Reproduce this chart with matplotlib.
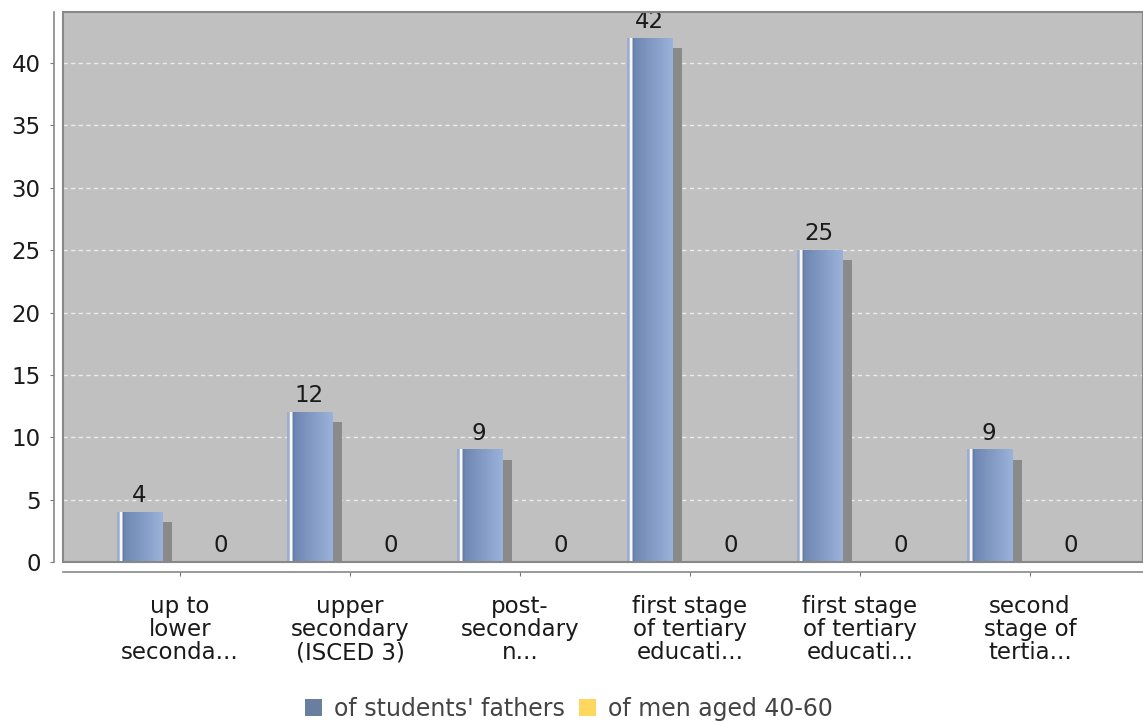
import numpy as np
import matplotlib
matplotlib.use("Agg")
import matplotlib.pyplot as plt
from matplotlib.patches import Rectangle, Patch
from matplotlib.colors import to_rgb
from matplotlib.transforms import blended_transform_factory

categories = ["up to\nlower\nseconda...", "upper\nsecondary\n(ISCED 3)", "post-\nsecondary\nn...",
              "first stage\nof tertiary\neducati...", "first stage\nof tertiary\neducati...",
              "second\nstage of\ntertia..."]
fathers = [4, 12, 9, 42, 25, 9]
men_40_60 = [0, 0, 0, 0, 0, 0]
series_names = ["of students' fathers", "of men aged 40-60"]

blue = "#6a7fa0"
yellow = "#fed75e"
FS = 16.5

plt.rcParams['font.family'] = ['DejaVu Sans']

fig = plt.figure(figsize=(11.43, 7.22), dpi=100)
ax = fig.add_axes([63/1143, 1 - 562/722, 1 - 63/1143, 550/722])
ax.set_facecolor("#c0c0c0")

ymax = 550 / 12.475


# gradient for bars (left highlight, white stripe, then dark->light blue)
def bar_gradient():
    light = np.array(to_rgb("#9bb2da"))
    dark = np.array(to_rgb("#6e87b2"))
    n = 100
    cols = np.zeros((1, n, 3))
    for i in range(n):
        t = i / (n - 1)
        if t < 0.06:
            col = np.array([0.62, 0.68, 0.80])
        elif t < 0.12:
            col = np.array([0.97, 0.98, 1.0])
        elif t < 0.16:
            col = dark * 0.92
        else:
            s = (t - 0.16) / 0.84
            col = dark + (light - dark) * s
        cols[0, i] = col
    return cols


grad = bar_gradient()
width = 0.265
off = 0.24
sdx = 10 / 170
sdy = 10 / 12.475

for i, v in enumerate(fathers):
    x0 = i - off - width / 2
    if v - sdy > 0:
        ax.add_patch(Rectangle((x0 + sdx, 0), width, v - sdy, color="#8a8a8a", zorder=2, lw=0))
    ax.imshow(grad, extent=(x0, x0 + width, 0, v), aspect='auto', zorder=3, interpolation='bilinear')
    ax.text(i - off, v + 0.8, str(v), ha='center', va='baseline', fontsize=FS, color='#1a1a1a', zorder=4)

for i, v in enumerate(men_40_60):
    ax.text(i + off, v + 0.8, str(v), ha='center', va='baseline', fontsize=FS, color='#1a1a1a', zorder=4)

ax.set_xlim(-0.688, 5.665)
ax.set_ylim(0, ymax)

ax.set_yticks(np.arange(0, 41, 5))
ax.yaxis.grid(True, color='#ececec', linestyle=(0, (3, 2.5)), linewidth=1.0, zorder=1)
ax.set_axisbelow(True)
ax.set_xticks(range(len(categories)))
ax.tick_params(axis='y', labelsize=FS, labelcolor='#1a1a1a', length=3, color='#777777', pad=6.5)
ax.tick_params(axis='x', length=3, color='#777777', labelbottom=False)

# category labels drawn as text below the axis
trans = blended_transform_factory(ax.transData, ax.transAxes)
for i, lab in enumerate(categories):
    ax.text(i, -(595 - 562) / 550, lab, transform=trans, ha='center', va='top',
            multialignment='center', fontsize=FS, color='#1a1a1a', linespacing=1.0,
            clip_on=False)

for s in ['top', 'right']:
    ax.spines[s].set_visible(False)
ax.spines['left'].set_position(('outward', 6.5))
ax.spines['bottom'].set_position(('outward', 7.5))
for s in ['left', 'bottom']:
    ax.spines[s].set_color('#888888')
    ax.spines[s].set_linewidth(1.2)

ax.add_patch(Rectangle((0, 0), 1, 1, transform=ax.transAxes, fill=False,
                       edgecolor='#888888', lw=1.5, zorder=5, clip_on=False))

handles = [Patch(facecolor=blue, edgecolor='none'), Patch(facecolor=yellow, edgecolor='none')]
fig.legend(handles, series_names, loc='center', bbox_to_anchor=(0.498, 1 - 709/722),
           ncol=2, frameon=False, fontsize=17, labelcolor='#444444',
           handlelength=0.72, handleheight=0.72, handletextpad=0.5, columnspacing=0.6,
           borderpad=0)

fig.savefig("out.png", dpi=100)
